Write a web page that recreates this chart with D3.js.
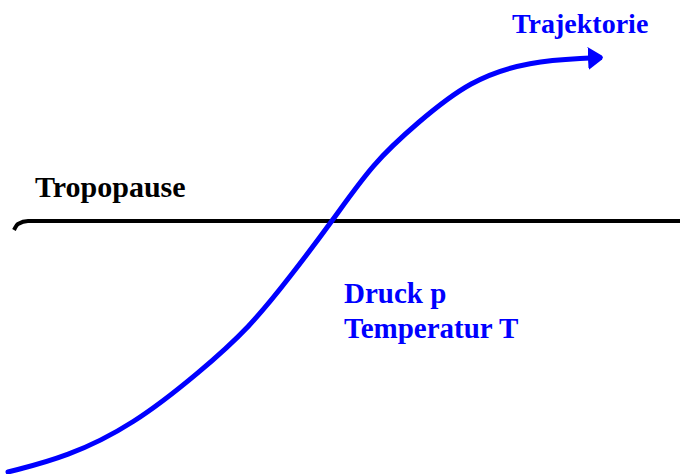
<!DOCTYPE html>
<html>
<head>
<meta charset="utf-8">
<script src="https://d3js.org/d3.v7.min.js"></script>
<style>
  body { margin: 0; background: #fff; }
  svg { display: block; }
  text { font-family: "Liberation Serif", "Times New Roman", serif; font-weight: bold; }
</style>
</head>
<body>
<svg id="svg1" width="680" height="474"></svg>
<script>
// trajectory points (diagram units = pixels of the sketch)
var trajX = [8, 67, 133, 200, 250, 290, 333, 373, 417, 470, 530, 590];
var trajY = [472, 457, 425, 372, 327, 277, 220, 163, 123, 80, 61, 58];

// tropopause line, with the little hook at the left end
var tropoX = [14, 18, 28, 680];
var tropoY = [230, 224, 221, 221];

var labels = ["Trajektorie", "Tropopause", "Druck p", "Temperatur T"];
var labelX = [512, 35, 344, 344];
var labelY = [33, 197, 303, 338];
var labelSize = [28, 30, 29, 29];
var labelColor = ["#0000ff", "#000000", "#0000ff", "#0000ff"];

var width = 680;
var height = 474;

var x = d3.scaleLinear().domain([0, 680]).range([0, width]);
var y = d3.scaleLinear().domain([0, 474]).range([0, height]);

var svg = d3.select('svg');

var defs = svg.append('defs');
defs.append('marker')
    .attr('id', 'arrow')
    .attr('markerUnits', 'userSpaceOnUse')
    .attr('markerWidth', 20)
    .attr('markerHeight', 26)
    .attr('viewBox', '0 -13 20 26')
    .attr('refX', 2)
    .attr('refY', 0)
    .attr('orient', 'auto')
    .append('path')
    .attr('d', 'M0,-11 L14,-2 L15,0 L14,2 L0,12 Z')
    .attr('fill', '#0000ff');

var tropo = tropoX.map(function(d, i) { return [d, tropoY[i]]; });
svg.append('path')
   .datum(tropo)
   .attr('d', d3.line()
       .x(function(d) { return x(d[0]); })
       .y(function(d) { return y(d[1]); })
       .curve(d3.curveMonotoneX))
   .attr('fill', 'none')
   .attr('stroke', '#000')
   .attr('stroke-width', 4);

var traj = trajX.map(function(d, i) { return [d, trajY[i]]; });
svg.append('path')
   .datum(traj)
   .attr('d', d3.line()
       .x(function(d) { return x(d[0]); })
       .y(function(d) { return y(d[1]); })
       .curve(d3.curveBasis))
   .attr('fill', 'none')
   .attr('stroke', '#0000ff')
   .attr('stroke-width', 5)
   .attr('stroke-linecap', 'round')
   .attr('marker-end', 'url(#arrow)');

svg.selectAll('text.label')
   .data(labels)
   .enter()
   .append('text')
   .attr('class', 'label')
   .attr('x', function(d, i) { return x(labelX[i]); })
   .attr('y', function(d, i) { return y(labelY[i]); })
   .attr('font-size', function(d, i) { return labelSize[i] + 'px'; })
   .attr('fill', function(d, i) { return labelColor[i]; })
   .text(function(d) { return d; });
</script>
</body>
</html>
